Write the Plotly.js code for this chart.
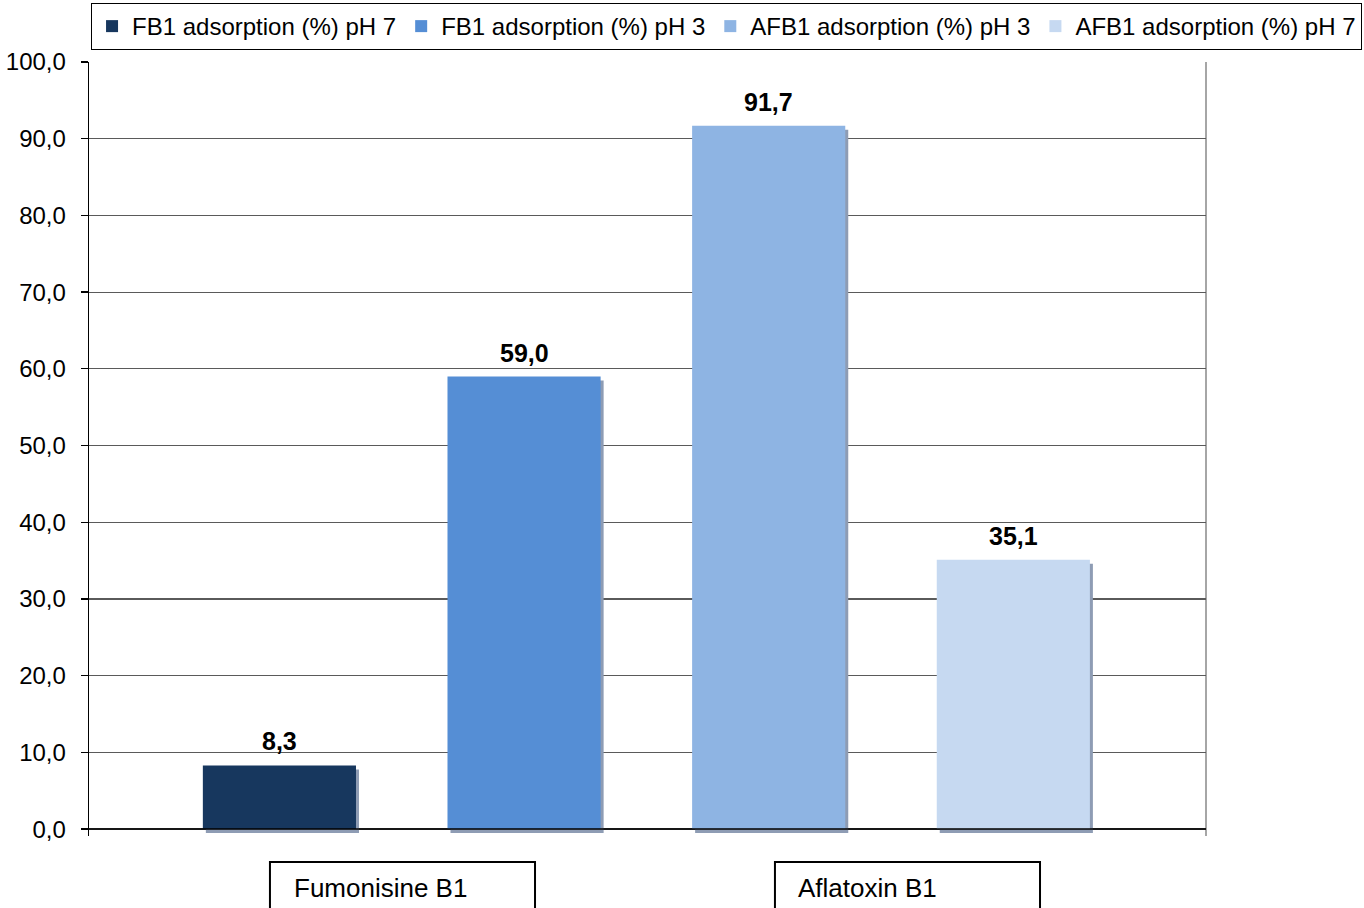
<!DOCTYPE html>
<html>
<head>
<meta charset="utf-8">
<script src="https://cdn.plot.ly/plotly-3.0.1.min.js"></script>
<style>html,body{margin:0;padding:0;background:#fff;}#chart{width:1364px;height:908px;}</style>
</head>
<body>
<div id="chart"></div>
<script>
// ---- data ----
const categories = ["Fumonisine B1", "Aflatoxin B1"];
const seriesNames = [
  "FB1 adsorption (%) pH 7",
  "FB1 adsorption (%) pH 3",
  "AFB1 adsorption (%) pH 3",
  "AFB1 adsorption (%) pH 7"
];
const fb1_pH7 = [8.3, null];
const fb1_pH3 = [59.0, null];
const afb1_pH3 = [null, 91.7];
const afb1_pH7 = [null, 35.1];
const yTickVals = [0, 10, 20, 30, 40, 50, 60, 70, 80, 90, 100];

// ---- styling ----
const seriesValues = [fb1_pH7, fb1_pH3, afb1_pH3, afb1_pH7];
const colors = ["#17375E", "#558ED5", "#8EB4E3", "#C6D9F1"];
const slot = ["L", "R", "L", "R"];
const offGroup = slot.map(s => s === "L" ? "g1" : "g2");
const FONT = "Liberation Sans, Arial, sans-serif";

const traces = [];
// shadows (main axes, drawn beneath)
seriesValues.forEach((vals, i) => {
  traces.push({
    type: "bar", x: categories, y: vals, xaxis: "x", yaxis: "y",
    offsetgroup: offGroup[i], marker: {color: "#8e9cb4"},
    showlegend: false, hoverinfo: "skip"
  });
});
// real bars (overlay axes)
seriesValues.forEach((vals, i) => {
  traces.push({
    type: "bar", x: categories, y: vals, xaxis: "x2", yaxis: "y2",
    name: seriesNames[i], offsetgroup: offGroup[i],
    marker: {color: colors[i], line: {color: "rgba(0,0,0,0)", width: 0}}
  });
});

const fmt = v => v.toFixed(1).replace(".", ",");
const annotations = [];
seriesValues.forEach((vals, i) => {
  vals.forEach((v, j) => {
    if (v === null) return;
    annotations.push({
      xref: "x2", yref: "y2", x: categories[j], y: v,
      xshift: slot[i] === "L" ? -122.3 : 122.3,
      yanchor: "bottom", yshift: 8, showarrow: false,
      text: "<b>" + fmt(v) + "</b>",
      font: {family: FONT, size: 25, color: "#000"}
    });
  });
});
const labelX = [0.1817, 0.6329];
categories.forEach((c, j) => {
  annotations.push({
    xref: "paper", yref: "paper", x: labelX[j], y: -0.0672,
    xanchor: "left", yanchor: "middle", showarrow: false,
    text: c, font: {family: FONT, size: 26, color: "#000"}
  });
});

const boxes = [[0.162, 0.3993], [0.6141, 0.8514]];
const shapes = boxes.map(b => ({
  type: "rect", xref: "paper", yref: "paper",
  x0: b[0], x1: b[1], y0: -0.0336, y1: -0.2,
  line: {color: "#000", width: 2}, fillcolor: "rgba(0,0,0,0)"
}));
shapes.push({
  type: "line", xref: "paper", yref: "paper", x0: 1, x1: 1, y0: 0, y1: 1,
  line: {color: "#a6a6a6", width: 2}, layer: "below"
});
shapes.push({
  type: "line", xref: "paper", yref: "y2", x0: 0, x1: 1, y0: 0, y1: 0,
  line: {color: "#000", width: 1.5}, layer: "above"
});

const xr = [-0.6392, 1.6438];
const sx = 3 / 489.25;
const layout = {
  width: 1364, height: 908,
  margin: {l: 89, r: 158, t: 62, b: 72, autoexpand: false},
  paper_bgcolor: "#fff", plot_bgcolor: "#fff",
  separators: ", ",
  barmode: "group", bargap: 0, bargroupgap: 0.374,
  font: {family: FONT, size: 24, color: "#000"},
  showlegend: true,
  legend: {
    orientation: "h", x: 1.1397, xanchor: "right", y: 1.0762, yanchor: "top",
    font: {family: FONT, size: 24, color: "#000"},
    bordercolor: "#000", borderwidth: 1, bgcolor: "#fff",
    traceorder: "normal", itemwidth: 30
  },
  xaxis: {
    type: "category", categoryarray: categories, categoryorder: "array",
    range: [xr[0] - sx, xr[1] - sx], showticklabels: false, showgrid: false,
    showline: false, zeroline: false, ticks: "", fixedrange: true
  },
  xaxis2: {
    type: "category", categoryarray: categories, categoryorder: "array",
    overlaying: "x", range: xr, showticklabels: false, showgrid: false,
    showline: false, zeroline: false, ticks: ""
  },
  yaxis: {
    range: [-0.9 + 0.521, 100 + 0.521], visible: false, showgrid: false, zeroline: false
  },
  yaxis2: {
    overlaying: "y", side: "left", range: [-0.9, 100],
    tickmode: "array", tickvals: yTickVals, tickformat: ".1f",
    showgrid: true, gridcolor: "#5a5a5a", gridwidth: 1.2,
    zeroline: false,
    showline: true, linecolor: "#000", linewidth: 1.3,
    ticks: "outside", ticklen: 7, tickcolor: "#000", tickwidth: 1.3,
    ticklabelstandoff: 10,
    tickfont: {family: FONT, size: 24, color: "#000"}
  },
  annotations: annotations,
  shapes: shapes
};

Plotly.newPlot("chart", traces, layout, {displayModeBar: false, staticPlot: true});
</script>
</body>
</html>
